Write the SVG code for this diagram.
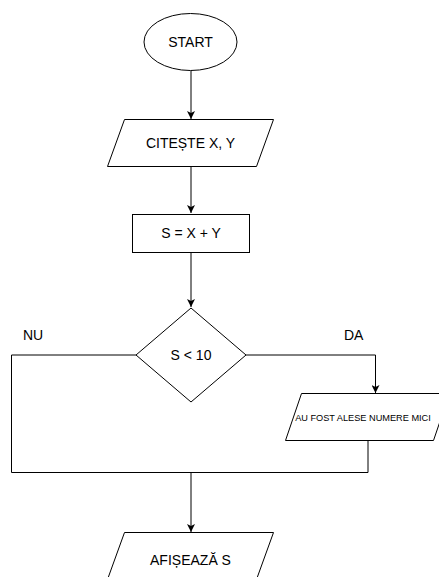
<svg xmlns="http://www.w3.org/2000/svg" width="439" height="577" viewBox="0 0 439 577">
  <style>
    .shape { fill: #ffffff; stroke: #000000; stroke-width: 1; }
    .line { fill: none; stroke: #000000; stroke-width: 1; }
    text { font-family: "Liberation Sans", Arial, sans-serif; font-size: 14px; fill: #000000; text-anchor: middle; }
    .small { font-size: 9.2px; }
    .label { text-anchor: start; }
  </style>
  <defs>
    <marker id="arrow" viewBox="0 0 8 8" refX="8" refY="4" markerWidth="8" markerHeight="8" markerUnits="userSpaceOnUse" orient="auto">
      <path d="M0,0 L8,4 L0,8 L2,4 Z" fill="#000000"/>
    </marker>
  </defs>
  <rect width="439" height="577" fill="#ffffff"/>

  <g id="connectors">
    <path class="line" d="M191,71 V119" marker-end="url(#arrow)"/>
    <path class="line" d="M191,166 V213" marker-end="url(#arrow)"/>
    <path class="line" d="M191,253 V307" marker-end="url(#arrow)"/>
    <path class="line" d="M246,355 H375.5 V393" marker-end="url(#arrow)"/>
    <path class="line" d="M136,355 H11.5 V472.5 H368 V440"/>
    <path class="line" d="M191,472.5 V532" marker-end="url(#arrow)"/>
  </g>

  <g id="start">
    <ellipse class="shape" cx="190.5" cy="42" rx="46.5" ry="28.5"/>
    <text x="190.5" y="47">START</text>
  </g>

  <g id="read-input">
    <polygon class="shape" points="124.5,119.5 273.5,119.5 256.5,166.5 107.5,166.5"/>
    <text x="190.5" y="148">CITEȘTE X, Y</text>
  </g>

  <g id="sum">
    <rect class="shape" x="132.5" y="214.5" width="117" height="38"/>
    <text x="191" y="238">S = X + Y</text>
  </g>

  <g id="condition">
    <polygon class="shape" points="191,308 246,355 191,402 136,355"/>
    <text x="191" y="360">S &lt; 10</text>
  </g>

  <g id="label-no">
    <text class="label" x="23" y="340">NU</text>
  </g>

  <g id="label-yes">
    <text class="label" x="344" y="340">DA</text>
  </g>

  <g id="small-numbers">
    <polygon class="shape" points="301.5,393.5 449.5,393.5 433.5,440.5 285.5,440.5"/>
    <text class="small" x="363" y="421">AU FOST ALESE NUMERE MICI</text>
  </g>

  <g id="print-sum">
    <polygon class="shape" points="124.5,532.5 273.5,532.5 256.5,579.5 107.5,579.5"/>
    <text x="190.5" y="565">AFIȘEAZĂ S</text>
  </g>
</svg>
